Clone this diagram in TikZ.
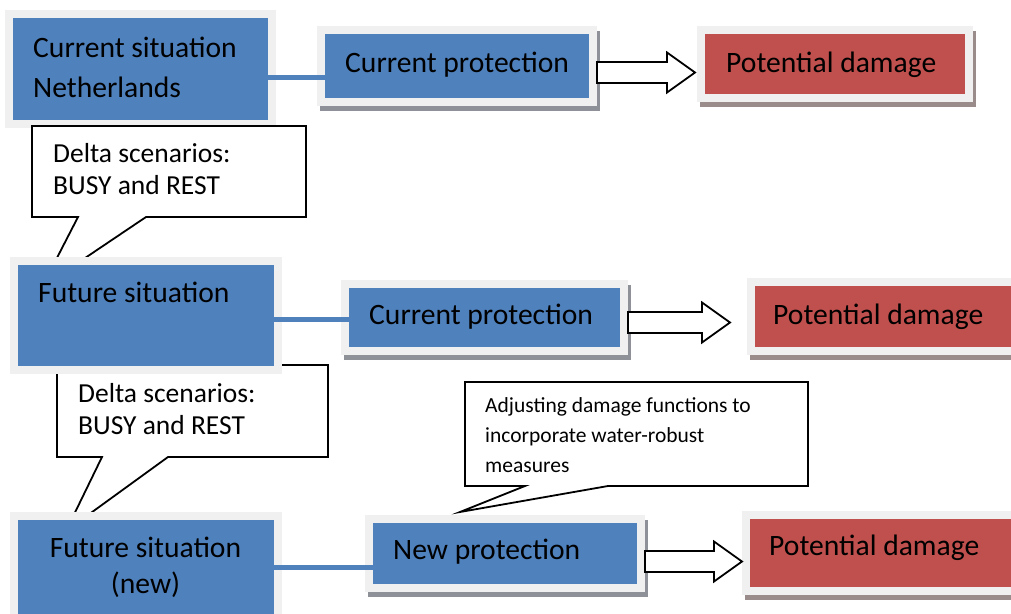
\documentclass[tikz,border=0pt]{standalone}
\usepackage{fontspec}
\setmainfont{Carlito}
\usetikzlibrary{calc}

\definecolor{boxblue}{HTML}{4F81BD}
\definecolor{boxred}{HTML}{C0504D}
\definecolor{framegrey}{HTML}{F0F0F0}
\definecolor{shadeblue}{RGB}{142,145,152}
\definecolor{shadered}{RGB}{155,140,140}

\tikzset{
  box/.style={rectangle, draw=framegrey, line width=8pt, inner sep=0pt},
  bluebox/.style={box, fill=boxblue},
  redbox/.style={box, fill=boxred},
  shadowblue/.style={preaction={draw=shadeblue, fill=shadeblue, transform canvas={xshift=3pt, yshift=-5pt}}},
  shadowred/.style={preaction={draw=shadered, fill=shadered, transform canvas={xshift=3pt, yshift=-5pt}}},
  boxtext/.style={inner sep=0pt, anchor=base west, font=\fontsize{29.6}{35}\selectfont},
  calltext/.style={inner sep=0pt, anchor=base west, font=\fontsize{27.5}{32}\selectfont},
  smalltext/.style={inner sep=0pt, anchor=base west, font=\fontsize{21.5}{30}\selectfont},
  link/.style={draw=boxblue, line width=5pt},
  blockarrow/.style={draw=black, fill=white, line width=1.8pt, line join=miter},
  callout/.style={draw=black, fill=white, line width=1.8pt, line join=miter},
}

% hollow block arrow from the east side of #1 towards the west side of #2
% #3: vertical offset of the arrow axis, #4: gap left before the target
\newcommand\blockarrow[4]{%
  \draw[blockarrow] let \p1=(#1.east), \p2=(#2.west) in
    ({\x1}, {\y1+#3+10.5pt}) -- ({\x2-#4-28pt}, {\y1+#3+10.5pt})
    -- ({\x2-#4-28pt}, {\y1+#3+20pt}) -- ({\x2-#4}, {\y1+#3})
    -- ({\x2-#4-28pt}, {\y1+#3-20pt}) -- ({\x2-#4-28pt}, {\y1+#3-10.5pt})
    -- ({\x1}, {\y1+#3-10.5pt}) -- cycle;}

\begin{document}
\begin{tikzpicture}[x=1pt, y=-1pt]
\clip (0,0) rectangle (1011,613);
\fill[white] (0,0) rectangle (1011,613);

% left column: situations
\node[bluebox, minimum width=263pt, minimum height=110pt] (cur) at (140.5,69) {};

% speech bubbles between the situations
\draw[callout] (32,126) -- (306,126) -- (306,217) -- (146,217) -- (42,287)
  -- (78,217) -- (32,217) -- cycle;
\draw[callout] (57,365) -- (328,365) -- (328,457) -- (168,457) -- (66,531)
  -- (102,457) -- (57,457) -- cycle;

\node[bluebox, minimum width=264pt, minimum height=109pt] (fut) at (146,315.5) {};
\node[bluebox, minimum width=264pt, minimum height=110pt] (new) at (146,571) {};

% protection boxes
\node[bluebox, shadowblue, minimum width=272pt, minimum height=72pt] (prot1) at (457,66) {};
\node[bluebox, shadowblue, minimum width=279pt, minimum height=67pt] (prot2) at (484.5,317.5) {};
\node[bluebox, shadowblue, minimum width=272pt, minimum height=69pt] (prot3) at (505,553.5) {};

% damage boxes
\node[redbox, shadowred, minimum width=268pt, minimum height=68pt] (dam1) at (835,64) {};
\node[redbox, shadowred, minimum width=270pt, minimum height=69pt] (dam2) at (886,316.5) {};
\node[redbox, shadowred, minimum width=270pt, minimum height=76pt] (dam3) at (881,553) {};

% bubble for the new protection
\draw[callout] (465,382) -- (808,382) -- (808,486) -- (608,486) -- (460,512)
  -- (525,486) -- (465,486) -- cycle;

% links between situation and protection
\draw[link] ([shift={(-8,8)}]cur.east) -- ([shift={(8,11)}]prot1.west);
\draw[link] ([shift={(-8,3.5)}]fut.east) -- ([shift={(8,1.5)}]prot2.west);
\draw[link] ([shift={(-8,-4)}]new.east) -- ([shift={(8,13.5)}]prot3.west);

% arrows to the damage
\blockarrow{prot1}{dam1}{-6.5pt}{2pt}
\blockarrow{prot2}{dam2}{-5pt}{17pt}
\blockarrow{prot3}{dam3}{-8pt}{0pt}

% texts
\node[boxtext] (tcur1) at (33,57) {Current situation};
\node[boxtext] (tcur2) at (33,97) {Netherlands};
\node[boxtext] (tfut) at (38,302) {Future situation};
\node[boxtext, anchor=base] (tnew1) at (145.5,557) {Future situation};
\node[boxtext, anchor=base] (tnew2) at (145.5,593) {(new)};

\node[boxtext] (tprot1) at (345,72) {Current protection};
\node[boxtext] (tprot2) at (369,324) {Current protection};
\node[boxtext] (tprot3) at (393,559) {New protection};

\node[boxtext] (tdam1) at (726,72) {Potential damage};
\node[boxtext] (tdam2) at (773,324) {Potential damage};
\node[boxtext] (tdam3) at (769,555) {Potential damage};

\node[calltext] (tdel1a) at (53,162) {Delta scenarios:};
\node[calltext] (tdel1b) at (53,194) {BUSY and REST};
\node[calltext] (tdel2a) at (78,402) {Delta scenarios:};
\node[calltext] (tdel2b) at (78,434) {BUSY and REST};

\node[smalltext] (tadj1) at (485,412) {Adjusting damage functions to};
\node[smalltext] (tadj2) at (485,442) {incorporate water-robust};
\node[smalltext] (tadj3) at (485,472) {measures};
\end{tikzpicture}
\end{document}
